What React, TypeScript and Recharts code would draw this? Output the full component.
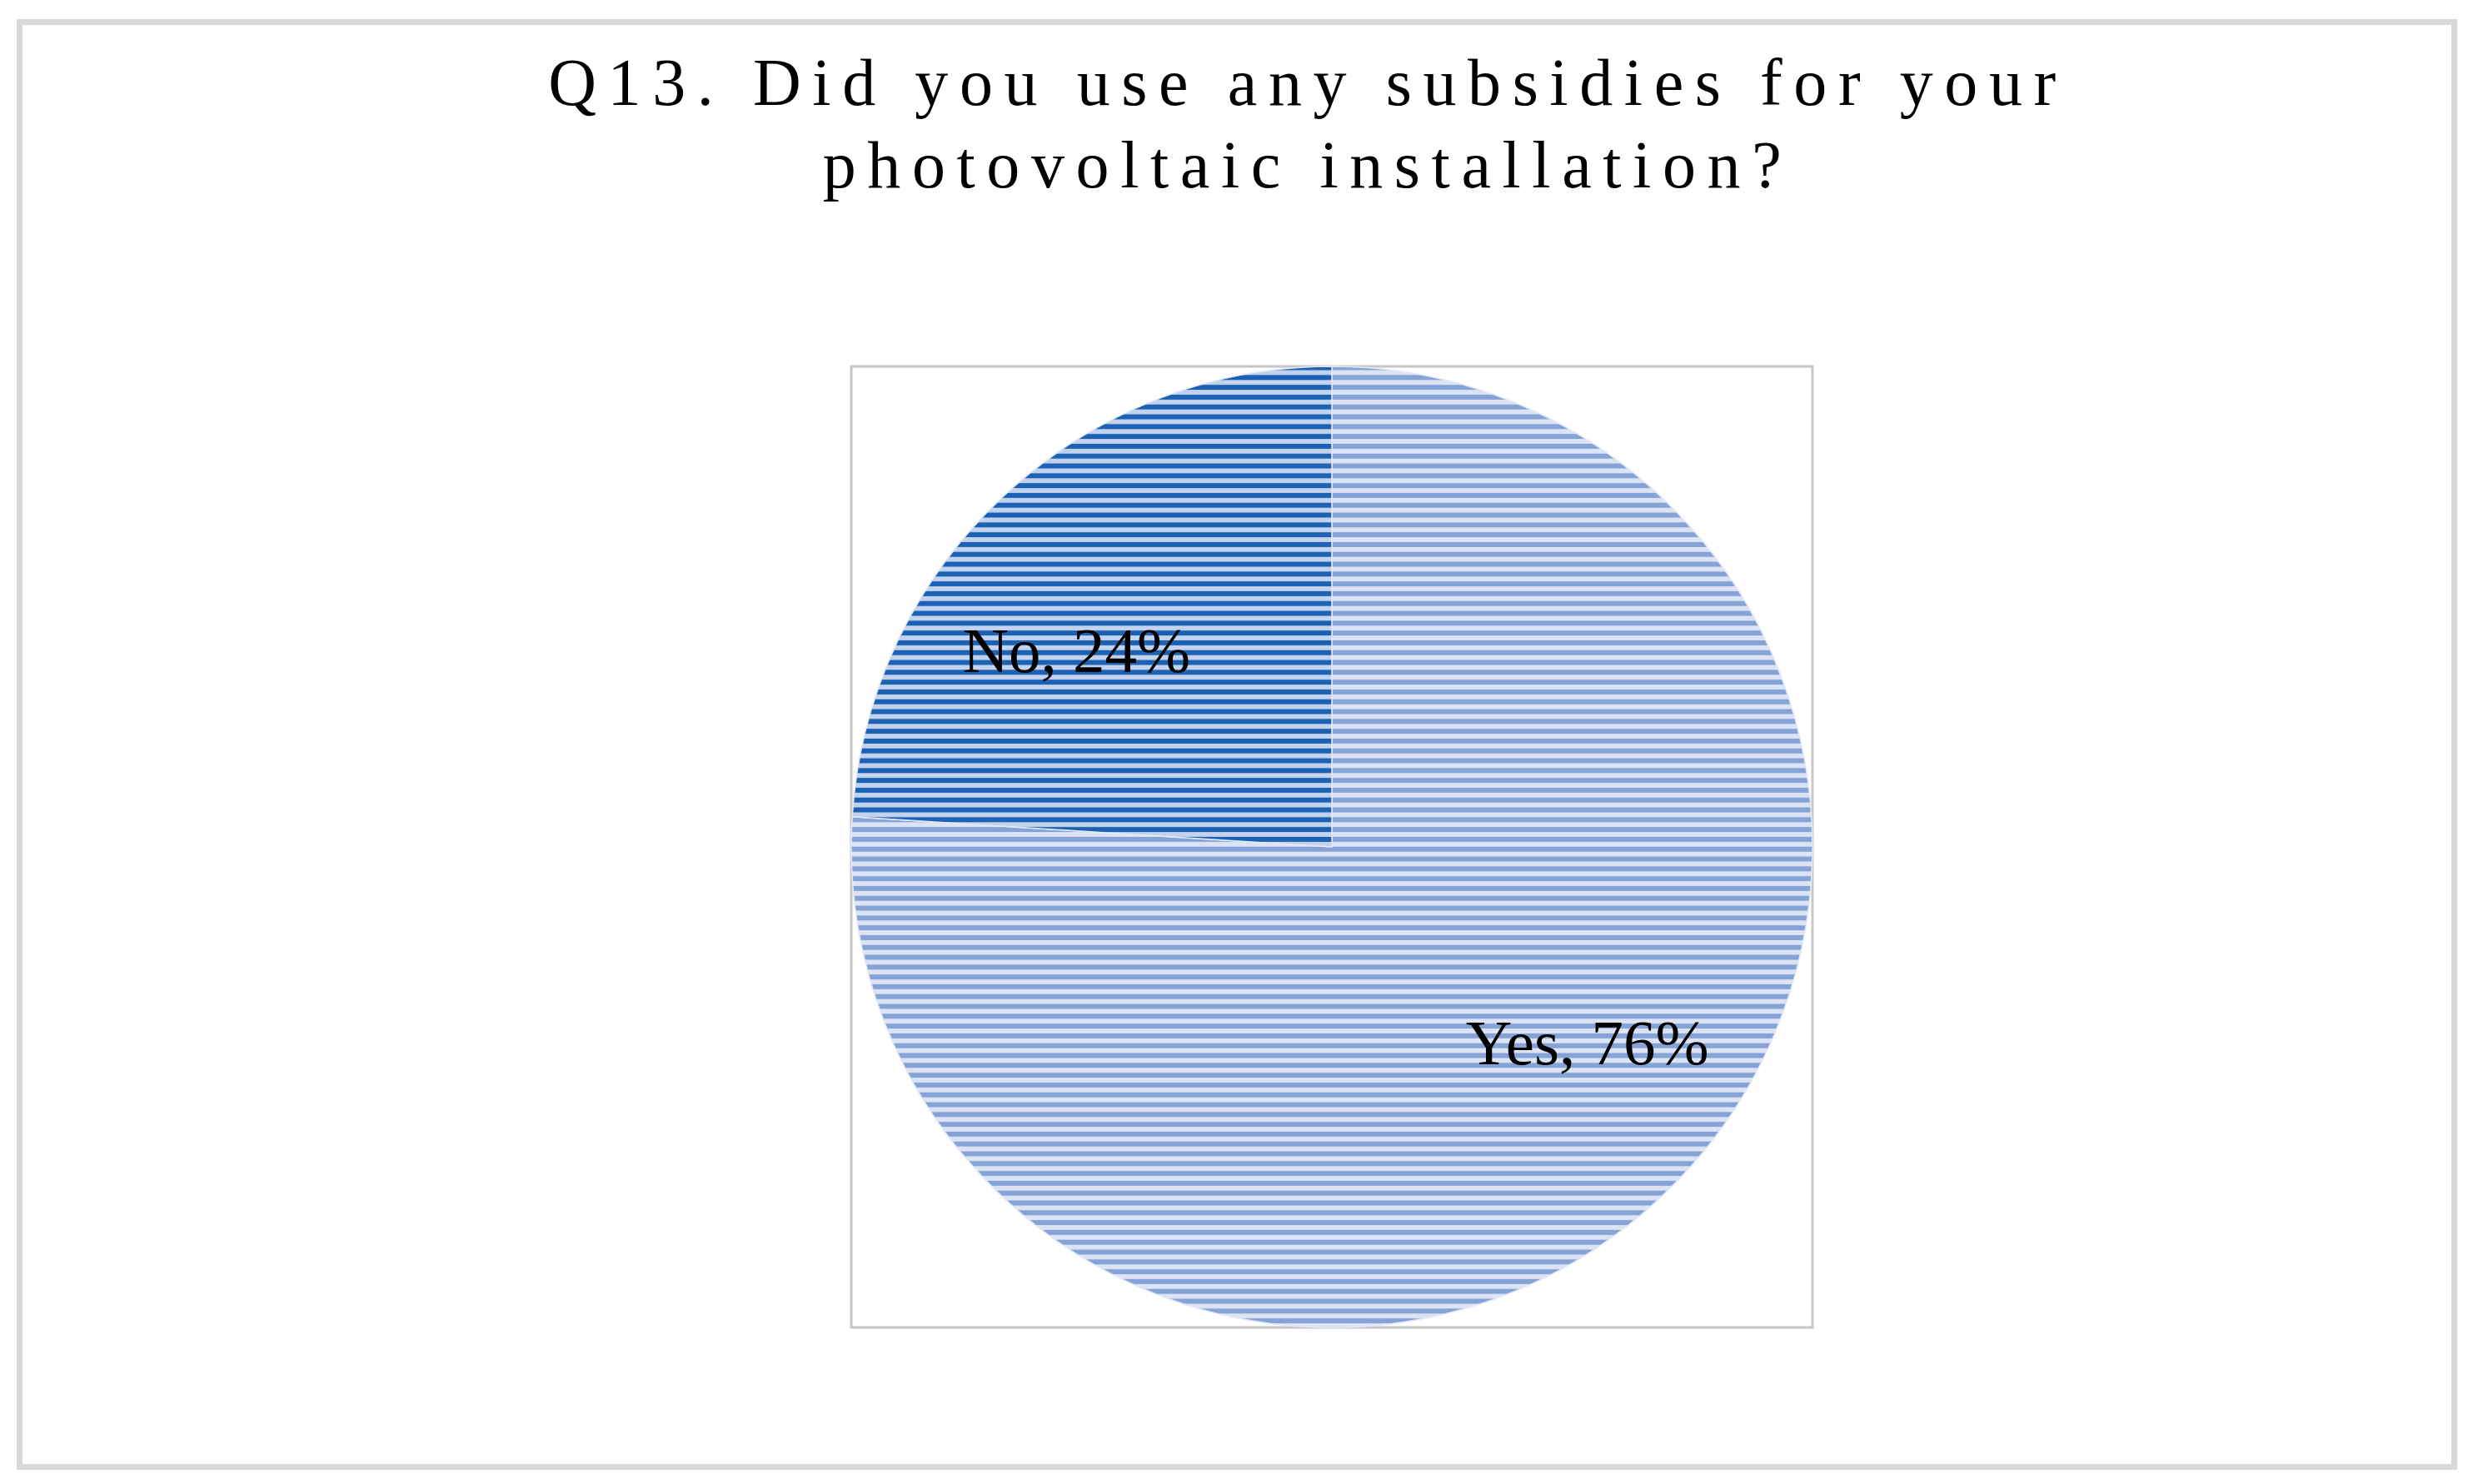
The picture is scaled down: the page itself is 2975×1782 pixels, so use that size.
import React from "react";
import { PieChart, Pie, Cell } from "recharts";

// survey answers, clockwise from 12 o'clock
const answers = ["Yes", "No"];
const shares = [76, 24];

const titleLines = [
  "Q13. Did you use any subsidies for your",
  "photovoltaic installation?",
];

const data = answers.map((name, i) => ({ name, value: shares[i] }));

const SERIF = "'Liberation Serif', 'Times New Roman', serif";
const RADIAN = Math.PI / 180;
const LABEL_SHIFT = 9.3; // excel "best fit" puts the labels a bit off the mid angle
const LABEL_SIZE = 77;

const stripes: Record<string, { id: string; line: string; back: string }> = {
  Yes: { id: "stripeYes", line: "#86a3d8", back: "#dce4f4" },
  No: { id: "stripeNo", line: "#1b61b4", back: "#c3d2ed" },
};

const renderLabel = (props: any) => {
  const { cx, cy, midAngle, outerRadius, value } = props;
  const name = props.name ?? props.payload?.name;
  const a = (midAngle + LABEL_SHIFT) * RADIAN;
  const r = outerRadius * 0.67;
  const x = cx + r * Math.cos(a);
  const y = cy - r * Math.sin(a);
  return (
    <text
      x={x}
      y={y + LABEL_SIZE * 0.33}
      textAnchor="middle"
      fontFamily={SERIF}
      fontSize={LABEL_SIZE}
      fill="#000"
    >
      {`${name}, ${value}%`}
    </text>
  );
};

const App: React.FC = () => {
  return (
    <div style={{ position: "absolute", left: 0, top: 0, width: 2975, height: 1782, background: "#fff" }}>
      <svg width={2975} height={1782} style={{ position: "absolute", left: 0, top: 0 }}>
        <defs>
          {Object.values(stripes).map((s) => (
            <pattern key={s.id} id={s.id} patternUnits="userSpaceOnUse" width={12} height={11.8}>
              <rect x={0} y={0} width={12} height={11.8} fill={s.back} />
              <rect x={0} y={1.9} width={12} height={6} fill={s.line} />
            </pattern>
          ))}
        </defs>
        <rect x={23.5} y={26.5} width={2923} height={1735} fill="#fff" stroke="#d9d9d9" strokeWidth={7} />
        <rect x={1022} y={440} width={1154} height={1154} fill="none" stroke="#c6c6c6" strokeWidth={3} />
        {titleLines.map((t, i) => (
          <text
            key={i}
            x={1570}
            y={126 + i * 99}
            textAnchor="middle"
            fontFamily={SERIF}
            fontSize={80}
            letterSpacing={13.6}
            fill="#000"
          >
            {t}
          </text>
        ))}
      </svg>
      <div style={{ position: "absolute", left: 0, top: 0 }}>
        <PieChart width={2975} height={1782} margin={{ top: 0, right: 0, bottom: 0, left: 0 }}>
          <Pie
            data={data}
            dataKey="value"
            nameKey="name"
            cx={1599}
            cy={1017}
            outerRadius={577}
            startAngle={90}
            endAngle={-270}
            stroke="#e3e9f6"
            strokeWidth={1.5}
            labelLine={false}
            label={renderLabel}
            isAnimationActive={false}
          >
            {data.map((d) => (
              <Cell key={d.name} fill={`url(#${stripes[d.name].id})`} />
            ))}
          </Pie>
        </PieChart>
      </div>
    </div>
  );
};

export default App;
